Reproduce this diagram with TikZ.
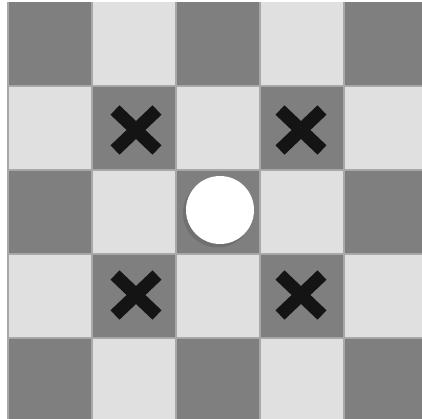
\documentclass[tikz,border=0pt]{standalone}
\usetikzlibrary{calc}
\begin{document}
\begin{tikzpicture}[x=1pt,y=-1pt,
  darksq/.style={fill=boardDark},
  lightsq/.style={fill=boardLight},
  cross/.style={line width=13pt,draw=crossBlack,line cap=butt},
]
\definecolor{boardDark}{HTML}{7F7F7F}
\definecolor{boardLight}{HTML}{E0E0E0}
\definecolor{gridLine}{HTML}{A8A8A8}
\definecolor{crossBlack}{HTML}{141414}
\useasboundingbox (0,0) rectangle (422,419);
\fill[white] (0,0) rectangle (422,419);
\foreach \i in {0,...,4}{
  \foreach \j in {0,...,4}{
    \pgfmathtruncatemacro{\sqpar}{mod(\i+\j,2)}
    \ifnum\sqpar=0
      \fill[darksq] (8+84*\i,2+84*\j) rectangle (8+84*\i+84,2+84*\j+84);
    \else
      \fill[lightsq] (8+84*\i,2+84*\j) rectangle (8+84*\i+84,2+84*\j+84);
    \fi
  }
}
\foreach \i in {0,...,5}{
  \draw[gridLine,line width=1.5pt] (8+84*\i,2) -- (8+84*\i,419);
}
\foreach \i in {1,...,5}{
  \draw[gridLine,line width=1.5pt] (8,2+84*\i) -- (422,2+84*\i);
}
\foreach \cx/\cy/\n in {136/130/a,301/130/b,136/295/c,301/295/d}{
  \coordinate (\n) at (\cx,\cy);
  \draw[cross] ($(\n)+(-21,-20)$) -- ($(\n)+(21,20)$);
  \draw[cross] ($(\n)+(-21,20)$) -- ($(\n)+(21,-20)$);
}
\fill[black!60,opacity=0.6] (217.5,213) circle (34.5);
\node[circle,fill=white,minimum size=68pt,inner sep=0pt] (ball) at (220,210) {};
\end{tikzpicture}
\end{document}
